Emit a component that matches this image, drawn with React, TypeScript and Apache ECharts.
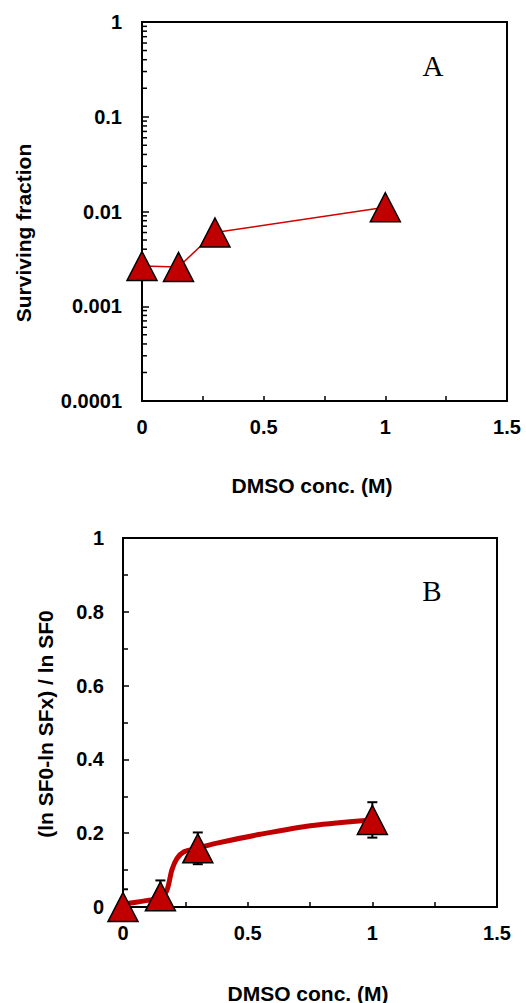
import React, { useEffect, useRef } from "react";
import * as echarts from "echarts";

// Panel A: surviving fraction vs DMSO concentration
const concA = [0, 0.15, 0.3, 1];
const survivingA = [0.00266, 0.0026, 0.006, 0.0111];

// Panel B: (ln SF0 - ln SFx) / ln SF0 vs DMSO concentration
const concB = [0, 0.15, 0.3, 1];
const ratioB = [0, 0.029, 0.159, 0.236];
const errB = [0.048, 0.043, 0.043, 0.048];

// Panel B fitted curve
const fitX = [0, 0.03, 0.1, 0.15, 0.176, 0.196, 0.216, 0.243, 0.3, 0.377, 0.55, 0.76, 1.0];
const fitY = [0.008, 0.011, 0.018, 0.025, 0.045, 0.1, 0.131, 0.149, 0.16, 0.173, 0.197, 0.221, 0.236];

// Log-axis minor tick values for panel A
const logMinorTicks = [2, 3, 4, 5, 6, 7, 8, 9].flatMap((m) =>
  [1e-4, 1e-3, 1e-2, 1e-1].map((d) => m * d)
);

const FONT = '"Liberation Sans", Arial, sans-serif';
const RED = "#c00000";

export default function App() {
  const ref = useRef<HTMLDivElement>(null);

  useEffect(() => {
    if (!ref.current) return;
    const chart = echarts.init(ref.current, null, { renderer: "svg" });

    const labelStyle = {
      color: "#000",
      fontFamily: FONT,
      fontWeight: "bold" as const,
      fontSize: 20,
    };
    const axisLine = { show: true, onZero: false, lineStyle: { color: "#000", width: 2 } };

    const option: any = {
      animation: false,
      backgroundColor: "#fff",
      grid: [
        { left: 142, top: 22, width: 365, height: 379, show: true, borderColor: "#000", borderWidth: 2, backgroundColor: "transparent" },
        { left: 123, top: 538, width: 374, height: 369, show: true, borderColor: "#000", borderWidth: 2, backgroundColor: "transparent" },
      ],
      xAxis: [
        {
          type: "value", gridIndex: 0, min: 0, max: 1.5, interval: 0.5,
          axisLine,
          axisTick: { show: true, inside: true, length: 5, lineStyle: { color: "#000", width: 1.5 } },
          minorTick: { show: true, splitNumber: 2, length: 5, lineStyle: { color: "#000", width: 1.5 } },
          splitLine: { show: false }, minorSplitLine: { show: false },
          axisLabel: { ...labelStyle, margin: 16 },
        },
        {
          type: "value", gridIndex: 1, min: 0, max: 1.5, interval: 0.5,
          axisLine,
          axisTick: { show: true, inside: true, length: 5, lineStyle: { color: "#000", width: 1.5 } },
          minorTick: { show: true, splitNumber: 2, length: 5, lineStyle: { color: "#000", width: 1.5 } },
          splitLine: { show: false }, minorSplitLine: { show: false },
          axisLabel: { ...labelStyle, margin: 16 },
        },
      ],
      yAxis: [
        {
          type: "log", logBase: 10, gridIndex: 0, min: 0.0001, max: 1,
          axisLine,
          axisTick: { show: true, inside: true, length: 7, lineStyle: { color: "#000", width: 1.5 } },
          splitLine: { show: false },
          axisLabel: {
            ...labelStyle, margin: 20,
            formatter: (v: number) => String(Number(v.toPrecision(1))),
          },
        },
        {
          type: "value", gridIndex: 1, min: 0, max: 1, interval: 0.2,
          axisLine,
          axisTick: { show: true, inside: true, length: 6, lineStyle: { color: "#000", width: 1.5 } },
          minorTick: { show: true, splitNumber: 2, length: 5, lineStyle: { color: "#000", width: 1.5 } },
          splitLine: { show: false }, minorSplitLine: { show: false },
          axisLabel: {
            ...labelStyle, margin: 19,
            formatter: (v: number) => String(Number(v.toFixed(1))),
          },
        },
      ],
      series: [
        {
          type: "custom",
          xAxisIndex: 0, yAxisIndex: 0,
          data: logMinorTicks.map((v) => [0, v]),
          silent: true,
          z: 1,
          renderItem: (params: any, api: any) => {
            const p = api.coord([0, api.value(1)]);
            return {
              type: "line",
              shape: { x1: p[0], y1: p[1], x2: p[0] + 5, y2: p[1] },
              style: { stroke: "#000", lineWidth: 1.5 },
            };
          },
        },
        {
          type: "line",
          xAxisIndex: 0, yAxisIndex: 0,
          data: concA.map((x, i) => [x, survivingA[i]]),
          symbol: "triangle",
          symbolSize: [30, 29],
          clip: false,
          lineStyle: { color: "#d00000", width: 1.5 },
          itemStyle: { color: RED, borderColor: "#000", borderWidth: 1.5 },
          z: 3,
        },
        {
          type: "line",
          xAxisIndex: 1, yAxisIndex: 1,
          data: fitX.map((x, i) => [x, fitY[i]]),
          smooth: 0.3,
          showSymbol: false,
          symbol: "none",
          clip: false,
          lineStyle: { color: RED, width: 5 },
          z: 2,
        },
        {
          type: "custom",
          xAxisIndex: 1, yAxisIndex: 1,
          data: concB.map((x, i) => [x, ratioB[i], errB[i]]),
          clip: true,
          z: 3,
          renderItem: (params: any, api: any) => {
            const x = api.value(0);
            const y = api.value(1);
            const e = api.value(2);
            const top = api.coord([x, y + e]);
            const bot = api.coord([x, y - e]);
            const hw = 5;
            const st = { stroke: "#000", lineWidth: 2 };
            return {
              type: "group",
              children: [
                { type: "line", shape: { x1: top[0], y1: top[1], x2: bot[0], y2: bot[1] }, style: st },
                { type: "line", shape: { x1: top[0] - hw, y1: top[1], x2: top[0] + hw, y2: top[1] }, style: st },
                { type: "line", shape: { x1: bot[0] - hw, y1: bot[1], x2: bot[0] + hw, y2: bot[1] }, style: st },
              ],
            };
          },
        },
        {
          type: "scatter",
          xAxisIndex: 1, yAxisIndex: 1,
          data: concB.map((x, i) => [x, ratioB[i]]),
          symbol: "triangle",
          symbolSize: [30, 29],
          clip: false,
          itemStyle: { color: RED, borderColor: "#000", borderWidth: 1.5, opacity: 1 },
          z: 4,
        },
      ],
      graphic: [
        {
          type: "text", x: 23, y: 233, rotation: Math.PI / 2,
          style: { text: "Surviving fraction", font: `bold 21px ${FONT}`, fill: "#000", align: "center", verticalAlign: "middle" },
        },
        {
          type: "text", x: 312, y: 485,
          style: { text: "DMSO conc. (M)", font: `bold 21px ${FONT}`, fill: "#000", align: "center", verticalAlign: "middle" },
        },
        {
          type: "text", x: 433, y: 66,
          style: { text: "A", font: `29px "Liberation Serif", "Times New Roman", serif`, fill: "#000", align: "center", verticalAlign: "middle" },
        },
        {
          type: "text", x: 45, y: 724, rotation: Math.PI / 2,
          style: { text: "(ln SF0-ln SFx) / ln SF0", font: `bold 21px ${FONT}`, fill: "#000", align: "center", verticalAlign: "middle" },
        },
        {
          type: "text", x: 308, y: 993,
          style: { text: "DMSO conc. (M)", font: `bold 21px ${FONT}`, fill: "#000", align: "center", verticalAlign: "middle" },
        },
        {
          type: "text", x: 432, y: 591,
          style: { text: "B", font: `29px "Liberation Serif", "Times New Roman", serif`, fill: "#000", align: "center", verticalAlign: "middle" },
        },
      ],
    };

    chart.setOption(option);
    return () => chart.dispose();
  }, []);

  return (
    <div
      ref={ref}
      style={{ position: "absolute", left: 0, top: 0, width: 526, height: 1003 }}
    />
  );
}
